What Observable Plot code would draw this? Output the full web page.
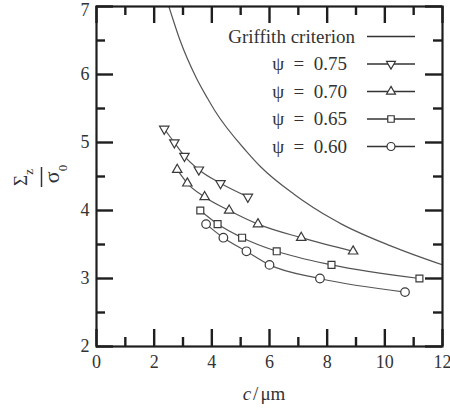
<!DOCTYPE html>
<html>
<head>
<meta charset="utf-8">
<script src="https://cdn.jsdelivr.net/npm/d3@7"></script>
<script src="https://cdn.jsdelivr.net/npm/@observablehq/plot@0.6"></script>
<style>
  html, body { margin: 0; padding: 0; background: white; }
</style>
</head>
<body>
<div id="chart"></div>
<script>
// Crack length c (µm) and normalised stress Σz/σ0 for each ψ series
const seriesNames = ["ψ  =  0.75", "ψ  =  0.70", "ψ  =  0.65", "ψ  =  0.60"];
const c075 = [2.35, 2.7, 3.05, 3.55, 4.3, 5.25];
const s075 = [5.2, 5.0, 4.8, 4.6, 4.4, 4.2];
const c070 = [2.8, 3.15, 3.75, 4.6, 5.6, 7.1, 8.9];
const s070 = [4.6, 4.4, 4.2, 4.0, 3.8, 3.6, 3.4];
const c065 = [3.6, 4.2, 5.05, 6.25, 8.15, 11.2];
const s065 = [4.0, 3.8, 3.6, 3.4, 3.2, 3.0];
const c060 = [3.8, 4.4, 5.2, 6.0, 7.75, 10.7];
const s060 = [3.8, 3.6, 3.4, 3.2, 3.0, 2.8];

// Griffith criterion curve
const griffithName = "Griffith criterion";
const griffithC = [2.51, 2.9, 3.45, 3.85, 4.1, 5.2, 5.7, 6.85, 8.2, 8.5, 10.2, 12];
const griffithS = [7.0, 6.5, 5.96, 5.65, 5.47, 4.87, 4.64, 4.24, 3.87, 3.8, 3.48, 3.2];

// Axis ticks
const xTicks = [0, 2, 4, 6, 8, 10, 12];
const xMinorTicks = [1, 3, 5, 7, 9, 11];
const yTicks = [2, 3, 4, 5, 6, 7];
const yMinorTicks = [2.5, 3.5, 4.5, 5.5, 6.5];

const toRows = (name, cs, ss) => cs.map((c, i) => ({series: name, c, s: ss[i]}));
const rows075 = toRows(seriesNames[0], c075, s075);
const rows070 = toRows(seriesNames[1], c070, s070);
const rows065 = toRows(seriesNames[2], c065, s065);
const rows060 = toRows(seriesNames[3], c060, s060);
const allRows = [...rows075, ...rows070, ...rows065, ...rows060];
const griffith = toRows(griffithName, griffithC, griffithS);

// Downward-pointing triangle, same area convention as d3.symbolTriangle
const triangleDown = {
  draw(context, size) {
    const y = Math.sqrt(size / (Math.sqrt(3) * 3));
    context.moveTo(0, 2 * y);
    context.lineTo(-Math.sqrt(3) * y, -y);
    context.lineTo(Math.sqrt(3) * y, -y);
    context.closePath();
  }
};

const lineColor = "#555";
const markColor = "#3a3a3a";
const inkColor = "#1e1e1e";

const W = 450, H = 410;
const mL = 96, mR = 8, mT = 6, mB = 64;
const innerW = W - mL - mR, innerH = H - mT - mB;
const majorLen = 17, minorLen = 9;

const markerStyle = [
  {rows: rows075, symbol: triangleDown, r: 3.5},
  {rows: rows070, symbol: "triangle", r: 3.5},
  {rows: rows065, symbol: "square", r: 3.9},
  {rows: rows060, symbol: "circle", r: 4.3}
];

// inward ticks: rules spanning the frame, inset down to the tick length
const tickStyle = {stroke: inkColor, strokeWidth: 2.4};
const xTicksAt = (ticks, len) => [
  Plot.ruleX(ticks, {x: d => d, insetTop: innerH - len, ...tickStyle}),
  Plot.ruleX(ticks, {x: d => d, insetBottom: innerH - len, ...tickStyle})
];
const yTicksAt = (ticks, len) => [
  Plot.ruleY(ticks, {y: d => d, insetRight: innerW - len, ...tickStyle}),
  Plot.ruleY(ticks, {y: d => d, insetLeft: innerW - len, ...tickStyle})
];

const chart = Plot.plot({
  width: W,
  height: H,
  marginLeft: mL,
  marginRight: mR,
  marginTop: mT,
  marginBottom: mB,
  x: {domain: [0, 12]},
  y: {domain: [2, 7]},
  style: {fontFamily: "'Liberation Serif', 'Times New Roman', serif", fontSize: "18px", color: "#333", background: "white"},
  marks: [
    // tick labels
    Plot.axisX({ticks: xTicks, anchor: "bottom", tickSize: 0, tickPadding: 9, label: null, tickFormat: d => String(d), fontSize: 18}),
    Plot.axisY({ticks: yTicks.slice(0, -1), anchor: "left", tickSize: 0, tickPadding: 7, label: null, tickFormat: d => String(d), fontSize: 18}),
    Plot.axisY({ticks: yTicks.slice(-1), anchor: "left", tickSize: 0, tickPadding: 7, dy: 4, label: null, tickFormat: d => String(d), fontSize: 18}),
    // inward major and minor ticks on all four sides
    ...xTicksAt(xTicks, majorLen),
    ...xTicksAt(xMinorTicks, minorLen),
    ...yTicksAt(yTicks, majorLen),
    ...yTicksAt(yMinorTicks, minorLen),
    // Griffith criterion
    Plot.line(griffith, {x: "c", y: "s", curve: "monotone-x", stroke: lineColor, strokeWidth: 1.2, clip: true}),
    // ψ series
    Plot.line(allRows, {x: "c", y: "s", z: "series", curve: "monotone-x", stroke: lineColor, strokeWidth: 1.2}),
    ...markerStyle.map(m => Plot.dot(m.rows, {x: "c", y: "s", symbol: m.symbol, r: m.r, fill: "white", stroke: markColor, strokeWidth: 1.2})),
    Plot.frame({stroke: inkColor, strokeWidth: 2.2})
  ]
});

document.getElementById("chart").appendChild(chart);

const svg = d3.select(chart);

// x-axis title: c / µm
const xt = svg.append("text")
  .attr("x", 264).attr("y", 400)
  .attr("text-anchor", "middle")
  .attr("fill", "#333")
  .style("font-size", "19px");
xt.append("tspan").style("font-style", "italic").text("c");
xt.append("tspan").attr("dx", 2).text("/");
xt.append("tspan").attr("dx", 2).text("μm");

// y-axis title: Σz over σ0, rotated
const yt = svg.append("g")
  .attr("transform", "translate(41.5,176) rotate(-90)")
  .attr("fill", "#333");
const num = yt.append("text")
  .attr("x", -1.5).attr("y", -14.5)
  .attr("text-anchor", "middle")
  .style("font-size", "19px");
num.append("tspan").text("Σ");
num.append("tspan").attr("dy", 6).style("font-size", "13px").text("z");
yt.append("line")
  .attr("x1", -11).attr("x2", 9).attr("y1", 0).attr("y2", 0)
  .attr("stroke", "#333").attr("stroke-width", 1.5);
const den = yt.append("text")
  .attr("x", 2).attr("y", 17)
  .attr("text-anchor", "middle")
  .style("font-size", "22px");
den.append("tspan").text("σ");
den.append("tspan").attr("dy", 8).style("font-size", "13px").text("0");

// legend
const legendItems = [
  {name: griffithName, symbol: null, size: 0, textEnd: 355},
  {name: seriesNames[0], symbol: triangleDown, size: 34, textEnd: 347},
  {name: seriesNames[1], symbol: d3.symbolTriangle, size: 34, textEnd: 347},
  {name: seriesNames[2], symbol: d3.symbolSquare, size: 42, textEnd: 347},
  {name: seriesNames[3], symbol: d3.symbolCircle, size: 50, textEnd: 347}
];
const legend = svg.append("g");
legendItems.forEach((item, i) => {
  const y = 36.5 + i * 27.5;
  legend.append("text")
    .attr("x", item.textEnd).attr("y", y + 6)
    .attr("text-anchor", "end")
    .attr("fill", "#333")
    .style("font-size", "19px")
    .text(item.name);
  legend.append("line")
    .attr("x1", 367).attr("x2", 415).attr("y1", y).attr("y2", y)
    .attr("stroke", "#333").attr("stroke-width", 1.5);
  if (item.symbol) {
    legend.append("path")
      .attr("transform", `translate(391,${y})`)
      .attr("d", d3.symbol(item.symbol, item.size)())
      .attr("fill", "white")
      .attr("stroke", "#333")
      .attr("stroke-width", 1.2);
  }
});
</script>
</body>
</html>
